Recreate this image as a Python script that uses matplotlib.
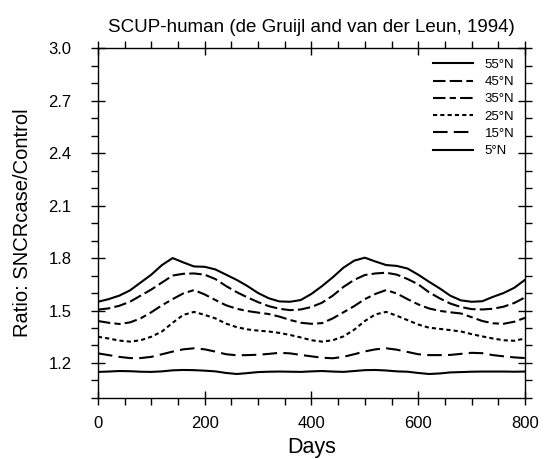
import numpy as np
import matplotlib
matplotlib.use('Agg')
import matplotlib.pyplot as plt
from matplotlib.ticker import MultipleLocator

plt.rcParams['font.family'] = ['Liberation Sans', 'DejaVu Sans']

# days sampled every 20
days = list(range(0, 801, 20))

n55 = [1.550, 1.565, 1.585, 1.615, 1.660, 1.705, 1.760, 1.800, 1.775, 1.752,
       1.750, 1.735, 1.705, 1.675, 1.640, 1.600, 1.570, 1.552, 1.550, 1.560,
       1.595, 1.640, 1.690, 1.745, 1.785, 1.802, 1.780, 1.760, 1.755, 1.740,
       1.705, 1.665, 1.627, 1.585, 1.558, 1.550, 1.553, 1.578, 1.600, 1.630,
       1.675]
n45 = [1.505, 1.512, 1.527, 1.550, 1.585, 1.620, 1.660, 1.700, 1.710, 1.712,
       1.705, 1.680, 1.640, 1.605, 1.575, 1.548, 1.525, 1.510, 1.502, 1.506,
       1.520, 1.545, 1.585, 1.635, 1.675, 1.703, 1.712, 1.716, 1.705, 1.680,
       1.650, 1.605, 1.570, 1.540, 1.520, 1.508, 1.506, 1.510, 1.522, 1.543,
       1.575]
n35 = [1.440, 1.430, 1.423, 1.432, 1.455, 1.490, 1.530, 1.565, 1.598, 1.617,
       1.592, 1.560, 1.530, 1.510, 1.497, 1.488, 1.480, 1.465, 1.446, 1.430,
       1.424, 1.428, 1.455, 1.490, 1.525, 1.565, 1.595, 1.617, 1.597, 1.565,
       1.535, 1.512, 1.498, 1.490, 1.483, 1.462, 1.440, 1.427, 1.424, 1.436,
       1.458]
n25 = [1.350, 1.340, 1.328, 1.322, 1.330, 1.350, 1.380, 1.430, 1.475, 1.492,
       1.475, 1.455, 1.425, 1.405, 1.392, 1.385, 1.380, 1.372, 1.360, 1.346,
       1.330, 1.322, 1.330, 1.352, 1.390, 1.440, 1.478, 1.492, 1.470, 1.445,
       1.420, 1.402, 1.395, 1.388, 1.380, 1.365, 1.352, 1.340, 1.330, 1.327,
       1.340]
n15 = [1.255, 1.245, 1.235, 1.228, 1.228, 1.235, 1.250, 1.265, 1.278, 1.284,
       1.278, 1.265, 1.250, 1.244, 1.245, 1.247, 1.252, 1.258, 1.255, 1.246,
       1.238, 1.230, 1.227, 1.235, 1.250, 1.266, 1.278, 1.284, 1.276, 1.263,
       1.250, 1.245, 1.245, 1.246, 1.252, 1.258, 1.256, 1.245, 1.238, 1.232,
       1.228]
n5 = [1.149, 1.151, 1.154, 1.153, 1.150, 1.149, 1.152, 1.158, 1.160, 1.159,
      1.156, 1.152, 1.143, 1.137, 1.142, 1.148, 1.150, 1.151, 1.150, 1.149,
      1.152, 1.154, 1.151, 1.149, 1.154, 1.159, 1.160, 1.157, 1.152, 1.150,
      1.143, 1.137, 1.140, 1.146, 1.148, 1.150, 1.151, 1.151, 1.151, 1.150,
      1.151]

labels = ['55°N', '45°N', '35°N', '25°N', '15°N', '5°N']
series = [n55, n45, n35, n25, n15, n5]
styles = ['-', (0, (6, 2)), (0, (6, 2, 3, 2)), (0, (2, 1.5)), (0, (7, 3)), '-']

fig = plt.figure(figsize=(5.44, 4.59), dpi=100)
ax = fig.add_axes([0.180, 0.133, 0.785, 0.762])

for vals, lab, ls in zip(series, labels, styles):
    ax.plot(days, vals, color='black', linestyle=ls, linewidth=1.5, label=lab)

ax.set_xlim(0, 800)
ax.set_ylim(1.0, 3.0)
ax.xaxis.set_major_locator(MultipleLocator(200))
ax.xaxis.set_minor_locator(MultipleLocator(50))
ax.set_yticks([1.2, 1.5, 1.8, 2.1, 2.4, 2.7, 3.0])
ax.set_yticklabels(['1.2', '1.5', '1.8', '2.1', '2.4', '2.7', '3.0'])
ax.yaxis.set_minor_locator(MultipleLocator(0.1))
ax.tick_params(which='major', direction='inout', length=10, width=1,
               top=True, right=True, labelsize=12)
ax.tick_params(axis='x', which='major', pad=8)
ax.tick_params(axis='y', which='major', pad=14)
ax.tick_params(which='minor', direction='out', length=5, width=1,
               top=True, right=True)
for sp in ax.spines.values():
    sp.set_linewidth(1)

ax.set_xlabel('Days', fontsize=15.5, labelpad=4)
ax.set_ylabel('Ratio: SNCRcase/Control', fontsize=14.5, labelpad=12)
ax.set_title('SCUP-human (de Gruijl and van der Leun, 1994)', fontsize=13.5, pad=12)

ax.legend(loc='upper right', frameon=False, fontsize=9.5, handlelength=3.0,
          handletextpad=0.9, labelspacing=0.38, borderaxespad=0.4)

fig.savefig('out.png', dpi=100)
